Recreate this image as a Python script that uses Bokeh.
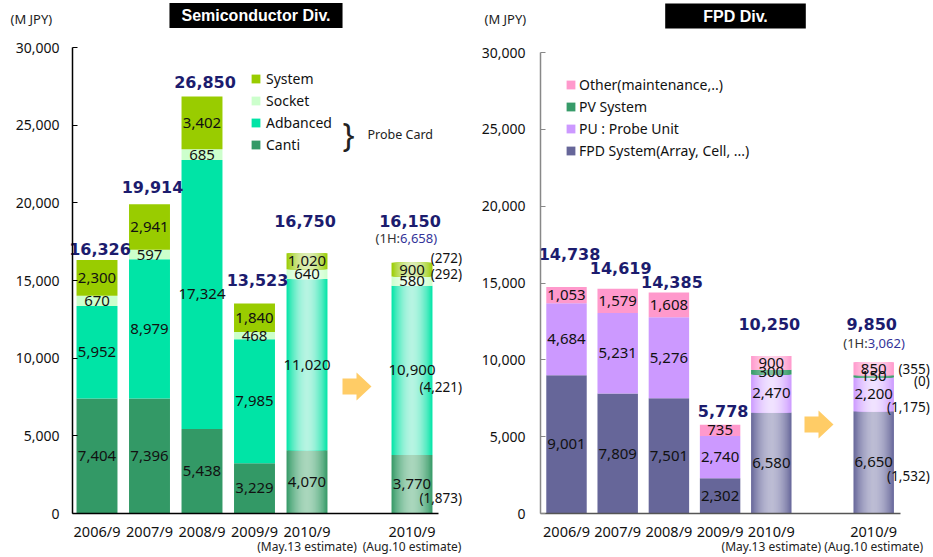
from bokeh.plotting import figure
from bokeh.models import (FixedTicker, NumeralTickFormatter, LinearAxis, Legend,
                          LegendItem, Label, Range1d)
from bokeh.layouts import row
from bokeh.embed import file_html
from bokeh.resources import INLINE
from bokeh.core.properties import value

# ---------------- data ----------------
periods = ["2006/9", "2007/9", "2008/9", "2009/9", "2010/9", "2010/9"]
period_notes = ["(May.13 estimate)", "(Aug.10 estimate)"]
slot = [0, 1, 2, 3, 4, 6]
is_estimate = [False, False, False, False, True, True]
y_ticks = [0, 5000, 10000, 15000, 20000, 25000, 30000]

semi_names = ["Canti", "Adbanced", "Socket", "System"]
semi_canti = [7404, 7396, 5438, 3229, 4070, 3770]
semi_adbanced = [5952, 8979, 17324, 7985, 11020, 10900]
semi_socket = [670, 597, 685, 468, 640, 580]
semi_system = [2300, 2941, 3402, 1840, 1020, 900]
semi_totals = [16326, 19914, 26850, 13523, 16750, 16150]
semi_1h = [1873, 4221, 292, 272]
semi_1h_total = 6658

fpd_names = ["FPD System(Array, Cell, ...)", "PU : Probe Unit", "PV System",
             "Other(maintenance,..)"]
fpd_system = [9001, 7809, 7501, 2302, 6580, 6650]
fpd_pu = [4684, 5231, 5276, 2740, 2470, 2200]
fpd_pv = [0, 0, 0, 0, 300, 150]
fpd_other = [1053, 1579, 1608, 735, 900, 850]
fpd_totals = [14738, 14619, 14385, 5778, 10250, 9850]
fpd_1h = [1532, 1175, 0, 355]
fpd_1h_total = 3062

FONT = "Noto Sans"
NAVY = "#1c1c6e"
PAGE_H = 557
BASE_Y = 513   # page y of the zero line


def hex2rgb(h):
    h = h.lstrip("#")
    return tuple(int(h[i:i + 2], 16) for i in (0, 2, 4))


def mix(c1, c2, t):
    a, b = hex2rgb(c1), hex2rgb(c2)
    return "#%02x%02x%02x" % tuple(round(a[i] + (b[i] - a[i]) * t) for i in range(3))


def build(cfg):
    ppx = cfg["ppx"]            # pixels per slot
    ppy = cfg["ppy"]            # pixels per unit
    fl = cfg["fig_left"]        # page x of the figure's left edge
    c0 = cfg["slot0_px"]        # page x of slot 0 centre

    def sx(px):
        return (px - c0) / ppx

    def sy(py):
        return (BASE_Y - py) / ppy

    p = figure(width=cfg["width"], height=PAGE_H,
               x_range=Range1d(sx(fl), sx(fl + cfg["width"])),
               y_range=Range1d(sy(PAGE_H), sy(0)),
               output_backend="svg", toolbar_location=None, min_border=0,
               min_border_left=0, min_border_right=0, min_border_top=0,
               min_border_bottom=0)
    p.outline_line_color = None
    p.xgrid.visible = False
    p.ygrid.visible = False

    ax_x = sx(cfg["axis_px"])

    # y axis (drawn at a fixed place inside the canvas)
    ya = p.yaxis[0]
    ya.fixed_location = ax_x
    ya.ticker = FixedTicker(ticks=y_ticks)
    ya.formatter = NumeralTickFormatter(format="0,0")
    ya.bounds = (0, 30000)
    ya.major_tick_in = 5
    ya.major_tick_out = 0
    ya.minor_tick_line_color = None
    ya.axis_line_color = cfg["yaxis_color"]
    ya.major_tick_line_color = cfg["yaxis_color"]
    ya.axis_line_width = 1.5
    ya.major_label_text_font = FONT
    ya.major_label_text_font_size = "14px"
    ya.major_label_text_color = "#111111"
    ya.major_label_standoff = cfg["ystandoff"]

    # x axis
    xa = p.xaxis[0]
    xa.fixed_location = 0
    xa.ticker = FixedTicker(ticks=slot)
    xa.major_label_overrides = {s: lab for s, lab in zip(slot, periods)}
    xa.bounds = (ax_x, sx(cfg["axis_end_px"]))
    xa.axis_line_color = cfg["xaxis_color"]
    xa.axis_line_width = 1.5
    xa.major_tick_line_color = None
    xa.major_tick_out = 0
    xa.minor_tick_line_color = None
    xa.major_label_text_font = FONT
    xa.major_label_text_font_size = "14.5px"
    xa.major_label_text_color = "#111111"
    xa.major_label_standoff = 7

    est_slots = [s for s, e in zip(slot, is_estimate) if e]
    xa2 = LinearAxis(ticker=FixedTicker(ticks=est_slots), fixed_location=0,
                     major_label_overrides={s: n for s, n in zip(est_slots, period_notes)},
                     axis_line_color=None, major_tick_line_color=None,
                     minor_tick_line_color=None, major_tick_out=0,
                     major_label_standoff=24,
                     major_label_text_font=FONT, major_label_text_font_size="12px",
                     major_label_text_color="#222222")
    p.add_layout(xa2, "below")

    W = cfg["bar_w"]
    series = cfg["series"]
    bottoms = [0] * len(slot)
    legend_r = []
    seg_lab_x, seg_lab_y, seg_lab_t = [], [], []
    for vals, color, center in series:
        tops = [b + v for b, v in zip(bottoms, vals)]
        solid = [i for i in range(len(slot)) if not is_estimate[i] and vals[i] > 0]
        r = p.vbar(x=[slot[i] for i in solid], bottom=[bottoms[i] for i in solid],
                   top=[tops[i] for i in solid], width=W, fill_color=color,
                   line_color=None)
        est = [i for i in range(len(slot)) if is_estimate[i] and vals[i] > 0]
        n = 18
        first_layer = None
        for k in range(n):
            fo = 1 - k / n
            fi = 1 - (k + 1) / n
            d = (fo + fi) / 2
            c = mix(center, color, d ** 1.8)
            rr = p.vbar(x=[slot[i] for i in est], bottom=[bottoms[i] for i in est],
                        top=[tops[i] for i in est], width=W * fo, fill_color=c,
                        line_color=None)
            if first_layer is None:
                first_layer = rr
        legend_r.append(r if solid else first_layer)
        for i in range(len(slot)):
            if vals[i] > 0:
                seg_lab_x.append(slot[i])
                seg_lab_y.append(bottoms[i] + vals[i] / 2)
                seg_lab_t.append(f"{vals[i]:,}")
        bottoms = tops

    p.text(x=seg_lab_x, y=seg_lab_y, text=seg_lab_t, text_align="center",
           text_baseline="middle", text_font=value(FONT), text_font_size="15px",
           text_color="#111111")

    # first-half figures beside the last bar
    last = len(slot) - 1
    cum = 0
    px_x, px_y, px_t = [], [], []
    for (vals, *_), h in zip(series, cfg["half"]):
        px_x.append(slot[last])
        px_y.append(cum + vals[last] / 2)
        px_t.append(f"({h:,})")
        cum += vals[last]
    p.text(x=px_x, y=px_y, text=px_t, x_offset=cfg["half_x"], y_offset=cfg["half_off"],
           text_align="right", text_baseline="middle", text_font=value(FONT),
           text_font_size="13.5px", text_color="#111111")

    # totals
    totals = cfg["totals"]
    nx = [slot[i] for i in range(len(slot)) if not is_estimate[i]]
    ny = [totals[i] for i in range(len(slot)) if not is_estimate[i]]
    nt = [f"{totals[i]:,}" for i in range(len(slot)) if not is_estimate[i]]
    p.text(x=nx, y=ny, text=nt, y_offset=[-l for l in cfg["lifts"]],
           x_offset=3, text_align="center", text_baseline="middle",
           text_font=value("DejaVu Sans"), text_font_style="bold",
           text_font_size="16px", text_color=NAVY)
    est_top = max(totals[i] for i in range(len(slot)) if is_estimate[i])
    ex = [slot[i] for i in range(len(slot)) if is_estimate[i]]
    et = [f"{totals[i]:,}" for i in range(len(slot)) if is_estimate[i]]
    p.text(x=ex, y=[est_top] * len(ex), text=et, y_offset=-32, x_offset=-2,
           text_align="center", text_baseline="middle",
           text_font=value("DejaVu Sans"), text_font_style="bold",
           text_font_size="16px", text_color=NAVY)
    p.text(x=[slot[last]], y=[est_top], text=["(1H:"], x_offset=cfg["h1_anchor"],
           y_offset=cfg["h1_dy"], text_align="right", text_baseline="middle",
           text_font=value(FONT), text_font_size="13px", text_color="#333333")
    p.text(x=[slot[last]], y=[est_top], text=[f"{cfg['h1_total']:,})"],
           x_offset=cfg["h1_anchor"], y_offset=cfg["h1_dy"], text_align="left",
           text_baseline="middle", text_font=value(FONT), text_font_size="13px",
           text_color="#333399")

    # arrow between the two estimates
    axp, ayp = cfg["arrow"]
    arrow_px = [(-14, -8), (0, -8), (0, -14), (15, 0), (0, 14), (0, 8), (-14, 8)]
    p.patch(x=[sx(axp + dx) for dx, dy in arrow_px],
            y=[sy(ayp + dy) for dx, dy in arrow_px],
            fill_color="#FFCC66", line_color=None)

    # legend
    items = [LegendItem(label=nm, renderers=[r]) for nm, r in zip(cfg["names"], legend_r)]
    items.reverse()
    lx, ly = cfg["legend_px"]   # page x of swatch left, page y of legend bottom
    lg = Legend(items=items, location=(lx - fl, PAGE_H - ly), padding=0, spacing=3,
                glyph_width=11, glyph_height=11, label_height=16,
                label_standoff=cfg["legend_standoff"], border_line_color=None,
                background_fill_alpha=0, label_text_font=FONT,
                label_text_font_size="14px", label_text_color="#111111", margin=0)
    p.add_layout(lg)

    # titles / notes
    tx, ty = cfg["title_pos"]
    p.add_layout(Label(x=sx(tx), y=sy(ty), text=cfg["title"], text_align="center",
                       text_baseline="middle", text_color="white",
                       text_font="Liberation Sans", text_font_style="bold",
                       text_font_size="16px", background_fill_color="black",
                       padding=cfg["title_pad"]))
    mx, my = cfg["unit_pos"]
    p.add_layout(Label(x=sx(mx), y=sy(my), text="(M JPY)", text_align="left",
                       text_baseline="middle", text_color="#222222",
                       text_font=FONT, text_font_size="13px"))
    for txt, (lx2, ly2), size in cfg.get("extra_labels", []):
        p.add_layout(Label(x=sx(lx2), y=sy(ly2), text=txt, text_align="left",
                           text_baseline="middle", text_color="#222222",
                           text_font=FONT, text_font_size=size))
    return p


left_cfg = dict(
    width=470, fig_left=0, slot0_px=96.5, ppx=52.5, ppy=466 / 30000,
    axis_px=72, axis_end_px=438, bar_w=0.78,
    yaxis_color="#000000", xaxis_color="#000000", ystandoff=13,
    series=[(semi_canti, "#339966", "#a9d6bc"),
            (semi_adbanced, "#00e4a6", "#b6f4e2"),
            (semi_socket, "#ccffcc", "#f0fff0"),
            (semi_system, "#99cc00", "#dcedb4")],
    names=semi_names, half=semi_1h, half_x=50, half_off=[14, 17, -7, -12],
    totals=semi_totals, lifts=[11, 17, 14, 23], h1_anchor=-12, h1_dy=-15,
    h1_total=semi_1h_total,
    arrow=(356, 386), legend_px=(250, 154), legend_standoff=5,
    title="Semiconductor Div.", title_pos=(255.5, 15),
    title_pad=dict(left=12, right=12, top=4, bottom=4),
    unit_pos=(10, 18),
    extra_labels=[("}", (342, 134), "32px"), ("Probe Card", (367, 134), "12.5px")],
)

right_cfg = dict(
    width=463, fig_left=470, slot0_px=566, ppx=51.2, ppy=461 / 30000,
    axis_px=540, axis_end_px=900, bar_w=0.79,
    yaxis_color="#888888", xaxis_color="#555555", ystandoff=15,
    series=[(fpd_system, "#666699", "#bcbcd4"),
            (fpd_pu, "#cc99ff", "#f0e2ff"),
            (fpd_pv, "#339966", "#7fc09f"),
            (fpd_other, "#ff99cc", "#ffd2e8")],
    names=fpd_names, half=fpd_1h, half_x=56, half_off=[14, 13, 5, 0],
    totals=fpd_totals, lifts=[33, 21, 10, 14], h1_anchor=-6, h1_dy=-13,
    h1_total=fpd_1h_total,
    arrow=(818, 424), legend_px=(565, 160), legend_standoff=3,
    title="FPD Div.", title_pos=(735, 15.5),
    title_pad=dict(left=38, right=38, top=4, bottom=4),
    unit_pos=(484, 18),
)

p1 = build(left_cfg)
p2 = build(right_cfg)
layout = row(p1, p2)
open("out.html", "w").write(file_html(layout, INLINE))
